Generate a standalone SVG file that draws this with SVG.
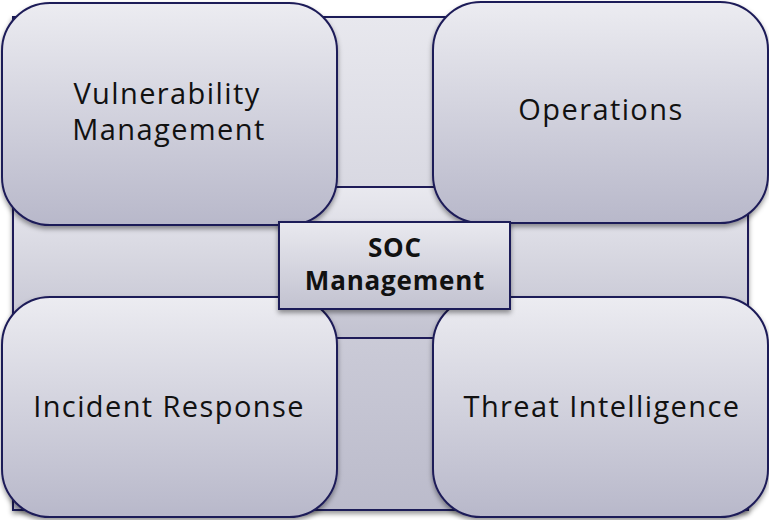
<svg xmlns="http://www.w3.org/2000/svg" width="769" height="520" viewBox="0 0 769 520">
  <defs>
    <linearGradient id="g" x1="0" y1="0" x2="0" y2="1">
      <stop offset="0" stop-color="#ececf1"/>
      <stop offset="1" stop-color="#b8b8ca"/>
    </linearGradient>
    <linearGradient id="gb" x1="0" y1="0" x2="0" y2="1">
      <stop offset="0" stop-color="#e8e8ee"/>
      <stop offset="1" stop-color="#bbbbcb"/>
    </linearGradient>
    <linearGradient id="gm" x1="0" y1="0" x2="0" y2="1">
      <stop offset="0" stop-color="#e9e9ef"/>
      <stop offset="1" stop-color="#c2c2d0"/>
    </linearGradient>
    <filter id="sh" x="-10%" y="-10%" width="120%" height="125%">
      <feDropShadow dx="0" dy="3" stdDeviation="2.5" flood-color="#000" flood-opacity="0.4"/>
    </filter>
  </defs>
  <style>
    .bg { fill: url(#gb); stroke: #1e1b58; stroke-width: 2; filter: url(#sh); }
    .band { fill: url(#gm); stroke: #1e1b58; stroke-width: 2; }
    .node { fill: url(#g); stroke: #1e1b58; stroke-width: 2; filter: url(#sh); }
    .center { fill: url(#gm); stroke: #1e1b58; stroke-width: 2; filter: url(#sh); }
    .lbl { font-family: "Open Sans", "DejaVu Sans", sans-serif; font-size: 29px; letter-spacing: 1.4px; fill: #111; text-anchor: middle; }
    .title { font-family: "Open Sans", "DejaVu Sans", sans-serif; font-size: 26px; letter-spacing: 0.8px; font-weight: bold; fill: #111; text-anchor: middle; }
  </style>
  <g id="background">
    <rect class="bg" x="13" y="17" width="735" height="493"/>
    <rect class="band" x="13" y="187" width="735" height="151"/>
  </g>
  <g id="connectors"/>
  <g id="vulnerability-management">
    <rect class="node" x="2" y="3" width="335" height="222" rx="48" ry="48"/>
    <text class="lbl" x="167" y="104">Vulnerability</text>
    <text class="lbl" x="169" y="140">Management</text>
  </g>
  <g id="operations">
    <rect class="node" x="433" y="2" width="335" height="221" rx="48" ry="48"/>
    <text class="lbl" x="601" y="120">Operations</text>
  </g>
  <g id="incident-response">
    <rect class="node" x="2" y="297" width="335" height="220" rx="48" ry="48"/>
    <text class="lbl" x="169" y="417">Incident Response</text>
  </g>
  <g id="threat-intelligence">
    <rect class="node" x="433" y="297" width="335" height="220" rx="48" ry="48"/>
    <text class="lbl" x="602" y="417">Threat Intelligence</text>
  </g>
  <g id="soc-management">
    <rect class="center" x="279" y="222" width="231" height="87"/>
    <text class="title" x="395" y="257">SOC</text>
    <text class="title" x="395" y="290">Management</text>
  </g>
</svg>
